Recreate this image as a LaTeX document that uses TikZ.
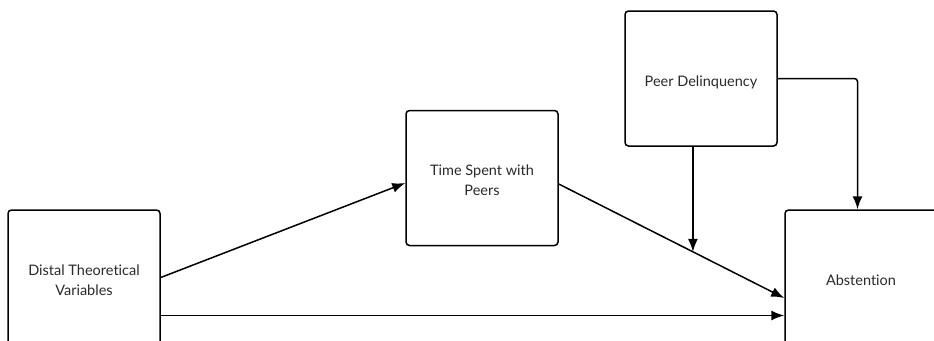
\documentclass[tikz,border=0pt]{standalone}
\usepackage{fontspec}
\setmainfont{Lato}[Ligatures=NoCommon]
\usetikzlibrary{calc,arrows.meta}
\definecolor{txt}{HTML}{2A2A2A}
\newcommand{\boxtext}[1]{\raisebox{-7.5pt}[0pt][0pt]{\begin{tabular}{@{}c@{}}#1\end{tabular}}}
\tikzset{
  box/.style={draw=black, line width=1.5pt, rounded corners=3.5pt, fill=white,
    minimum width=152pt, minimum height=135pt, inner sep=0pt,
    text=txt, font=\fontsize{14.5pt}{20pt}\selectfont},
  conn/.style={draw=black, line width=1.5pt, -{Latex[length=13pt,width=10pt]}}
}
\begin{document}
\begin{tikzpicture}[x=1pt,y=1pt]
\useasboundingbox (0,0) rectangle (934,-340);
\clip (0,0) rectangle (934,-340);
\node[box] (distal) at (84,-277.5) {\boxtext{Distal Theoretical\\Variables}};
\node[box] (time) at (482,-178) {\boxtext{Time Spent with\\Peers}};
\node[box] (peer) at (701,-78.5) {\boxtext{Peer Delinquency}};
\node[box] (abst) at (861,-277.5) {\boxtext{Abstention}};
\coordinate (d1) at (distal.east);
\coordinate (d2) at ($(distal.east)+(0,-38)$);
\coordinate (t1) at ($(time.west)+(0,-5)$);
\coordinate (t2) at ($(time.east)+(0,-6)$);
\coordinate (a1) at ($(abst.west)+(0,-20.5)$);
\coordinate (atop) at ($(abst.north)+(-3.5,0)$);
\path (t2) -- (a1) coordinate[pos=0.595] (mod);
\draw[conn] (d1) -- (t1);
\draw[conn] (d2) -- (d2 -| abst.west);
\draw[conn] (t2) -- (a1);
\draw[conn] (mod |- peer.south) -- (mod);
\draw[conn, rounded corners=3pt] (peer.east) -| (atop);
\end{tikzpicture}
\end{document}
